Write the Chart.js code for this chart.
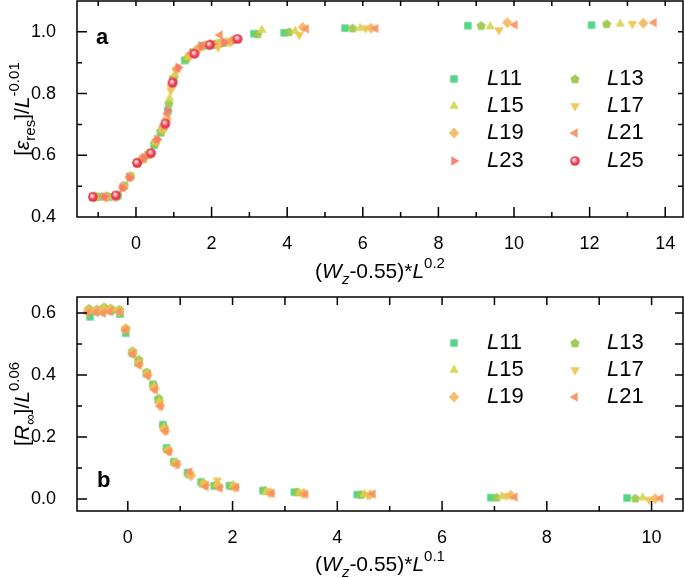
<!DOCTYPE html>
<html>
<head>
<meta charset="utf-8">
<script src="https://cdn.jsdelivr.net/npm/chart.js@4.4.0/dist/chart.umd.min.js"></script>
<style>
    html, body { margin: 0; padding: 0; background: #fff; }
    #wrap  { position: relative; width: 685px; height: 578px; }
    .panel { position: absolute; left: 0; width: 685px; height: 289px; }
</style>
</head>
<body>
<div id="wrap">
    <div class="panel" style="top:0"><canvas id="chart-a"></canvas></div>
    <div class="panel" style="top:289px"><canvas id="chart-b"></canvas></div>
</div>
<script>
// ── Data: panel a  (x = (Wz-0.55)*L^0.2, y = [eps_res]/L^-0.01) ──────
const aL11X = [-1.00, -0.73, -0.48, -0.31, -0.15, 0.03, 0.18, 0.32, 0.48, 0.65, 0.73, 0.84, 0.97, 1.29, 1.50, 1.74, 2.02, 2.26, 3.12, 3.92, 5.53, 8.78, 12.05];
const aL11Y = [0.466, 0.465, 0.470, 0.502, 0.532, 0.575, 0.589, 0.602, 0.633, 0.673, 0.692, 0.743, 0.842, 0.907, 0.933, 0.955, 0.958, 0.964, 0.994, 0.997, 1.012, 1.020, 1.022];
const aL13X = [-1.04, -0.75, -0.50, -0.32, -0.15, 0.03, 0.18, 0.33, 0.50, 0.67, 0.75, 0.87, 1.00, 1.34, 1.55, 1.80, 2.09, 2.34, 3.22, 4.05, 5.73, 9.13, 12.45];
const aL13Y = [0.466, 0.468, 0.468, 0.500, 0.532, 0.576, 0.589, 0.603, 0.638, 0.678, 0.697, 0.768, 0.852, 0.914, 0.937, 0.956, 0.961, 0.966, 0.993, 1.000, 1.012, 1.020, 1.026];
const aL15X = [-1.07, -0.77, -0.52, -0.33, -0.15, 0.03, 0.19, 0.34, 0.52, 0.69, 0.77, 0.89, 1.03, 1.38, 1.60, 1.86, 2.15, 2.41, 3.33, 4.21, 5.93, 9.37, 12.81];
const aL15Y = [0.464, 0.466, 0.467, 0.499, 0.532, 0.575, 0.590, 0.604, 0.643, 0.683, 0.703, 0.785, 0.863, 0.919, 0.941, 0.957, 0.962, 0.968, 1.006, 1.003, 1.012, 1.017, 1.026];
const aL17X = [-1.09, -0.79, -0.53, -0.33, -0.16, 0.04, 0.19, 0.35, 0.53, 0.70, 0.79, 0.92, 1.06, 1.41, 1.64, 1.90, 2.17, 2.47, 4.32, 6.08, 9.60, 13.13];
const aL17Y = [0.466, 0.464, 0.467, 0.499, 0.530, 0.576, 0.590, 0.605, 0.645, 0.685, 0.707, 0.810, 0.873, 0.923, 0.945, 0.958, 0.950, 0.966, 0.990, 1.012, 1.006, 1.026];
const aL19X = [-1.12, -0.81, -0.54, -0.34, -0.16, 0.04, 0.20, 0.36, 0.54, 0.72, 0.81, 0.94, 1.08, 1.44, 1.68, 1.95, 2.25, 2.52, 4.41, 6.22, 9.82, 13.42];
const aL19Y = [0.467, 0.466, 0.466, 0.497, 0.530, 0.576, 0.591, 0.606, 0.648, 0.690, 0.718, 0.827, 0.880, 0.927, 0.949, 0.959, 0.964, 0.970, 1.015, 1.012, 1.030, 1.028];
const aL21X = [-1.14, -0.83, -0.55, -0.35, -0.17, 0.04, 0.20, 0.37, 0.55, 0.74, 0.83, 0.96, 1.10, 1.47, 1.71, 1.99, 2.22, 2.57, 4.50, 6.34, 10.02, 13.70];
const aL21Y = [0.466, 0.465, 0.467, 0.496, 0.528, 0.576, 0.591, 0.607, 0.650, 0.695, 0.735, 0.838, 0.882, 0.930, 0.952, 0.960, 0.990, 0.975, 1.010, 1.011, 1.023, 1.030];
const aL23X = [-1.16, -0.84, -0.56, -0.36, -0.17, 0.04, 0.21, 0.37, 0.56, 0.75, 0.84, 0.97, 1.12, 1.50, 1.74, 2.02, 2.34, 2.62];
const aL23Y = [0.466, 0.466, 0.467, 0.494, 0.528, 0.576, 0.592, 0.607, 0.652, 0.697, 0.745, 0.842, 0.885, 0.932, 0.954, 0.961, 0.966, 0.973];
const aL25X = [-1.14, -0.53, 0.03, 0.40, 0.78, 0.97, 1.55, 1.95, 2.69];
const aL25Y = [0.465, 0.470, 0.575, 0.607, 0.703, 0.835, 0.929, 0.958, 0.977];

// ── Data: panel b  (x = (Wz-0.55)*L^0.1, y = [R_inf]/L^0.06) ─────────
const bL11X = [-0.72, -0.57, -0.44, -0.32, -0.15, -0.04, 0.09, 0.20, 0.36, 0.48, 0.58, 0.67, 0.74, 0.88, 1.14, 1.40, 1.65, 1.94, 2.58, 3.18, 4.38, 6.93, 9.53];
const bL11Y = [0.588, 0.605, 0.612, 0.608, 0.597, 0.535, 0.470, 0.440, 0.405, 0.370, 0.320, 0.240, 0.165, 0.120, 0.085, 0.055, 0.042, 0.043, 0.027, 0.022, 0.014, 0.004, 0.003];
const bL13X = [-0.74, -0.58, -0.45, -0.32, -0.16, -0.04, 0.09, 0.21, 0.36, 0.49, 0.59, 0.68, 0.75, 0.89, 1.16, 1.42, 1.68, 1.98, 2.62, 3.23, 4.46, 7.04, 9.69];
const bL13Y = [0.615, 0.612, 0.620, 0.615, 0.612, 0.550, 0.478, 0.450, 0.410, 0.368, 0.325, 0.235, 0.160, 0.118, 0.080, 0.050, 0.045, 0.042, 0.027, 0.022, 0.014, 0.005, 0.002];
const bL15X = [-0.75, -0.59, -0.46, -0.33, -0.16, -0.04, 0.09, 0.21, 0.37, 0.50, 0.60, 0.69, 0.76, 0.90, 1.18, 1.44, 1.70, 2.01, 2.64, 3.28, 4.52, 7.14, 9.83];
const bL15Y = [0.610, 0.605, 0.615, 0.612, 0.608, 0.545, 0.475, 0.440, 0.404, 0.362, 0.315, 0.230, 0.157, 0.117, 0.082, 0.050, 0.048, 0.045, 0.022, 0.020, 0.016, 0.008, 0.004];
const bL17X = [-0.76, -0.60, -0.46, -0.33, -0.16, -0.04, 0.09, 0.21, 0.37, 0.50, 0.61, 0.70, 0.77, 0.92, 1.19, 1.46, 1.71, 2.03, 2.69, 3.32, 4.58, 7.23, 9.95];
const bL17Y = [0.605, 0.610, 0.612, 0.610, 0.606, 0.548, 0.472, 0.438, 0.403, 0.360, 0.310, 0.225, 0.155, 0.115, 0.080, 0.050, 0.060, 0.040, 0.022, 0.018, 0.012, 0.010, -0.002];
const bL19X = [-0.76, -0.60, -0.47, -0.34, -0.16, -0.04, 0.09, 0.21, 0.38, 0.51, 0.62, 0.71, 0.78, 0.93, 1.21, 1.48, 1.74, 2.05, 2.72, 3.36, 4.63, 7.31, 10.07];
const bL19Y = [0.608, 0.610, 0.605, 0.612, 0.605, 0.550, 0.470, 0.437, 0.400, 0.356, 0.300, 0.220, 0.155, 0.112, 0.075, 0.045, 0.040, 0.038, 0.020, 0.018, 0.014, 0.012, 0.001];
const bL21X = [-0.77, -0.61, -0.47, -0.34, -0.16, -0.04, 0.09, 0.22, 0.38, 0.52, 0.62, 0.72, 0.79, 0.94, 1.18, 1.49, 1.76, 2.07, 2.75, 3.39, 4.68, 7.39, 10.17];
const bL21Y = [0.600, 0.602, 0.600, 0.605, 0.603, 0.545, 0.468, 0.432, 0.398, 0.352, 0.300, 0.220, 0.152, 0.112, 0.087, 0.040, 0.035, 0.037, 0.018, 0.015, 0.016, 0.006, 0.002];

const seriesLabels = ['11', '13', '15', '17', '19', '21', '23', '25'];
const seriesColors = ['#45d27c', '#9cc64c', '#d6d654', '#eec44c', '#f2b85e', '#f7915f', '#f87a6c', '#ee3a58'];
const seriesShapes = ['square', 'pentagon', 'up', 'down', 'diamond', 'left', 'right', 'sphere'];

const FONT = '"Liberation Sans", Arial, sans-serif';

// ── Marker images ─────────────────────────────────────────────────
function makeMarker(shape, color) {
    const s = 16;
    const c = document.createElement('canvas');
    c.width = s; c.height = s;
    const g = c.getContext('2d');
    g.translate(s / 2, s / 2);
    g.globalAlpha = 0.92;
    g.fillStyle = color;
    g.beginPath();
    const r = 5.4;
    const poly = pts => { g.moveTo(pts[0][0], pts[0][1]); pts.slice(1).forEach(p => g.lineTo(p[0], p[1])); g.closePath(); };
    switch (shape) {
        case 'square':  g.rect(-3.7, -3.7, 7.4, 7.4); break;
        case 'pentagon': {
            const pts = [];
            for (let i = 0; i < 5; i++) {
                const a = -Math.PI / 2 + i * 2 * Math.PI / 5;
                pts.push([4.9 * Math.cos(a), 4.9 * Math.sin(a) + 0.4]);
            }
            poly(pts); break;
        }
        case 'up':      poly([[0, -r], [r * 0.87, r * 0.5], [-r * 0.87, r * 0.5]]); break;
        case 'down':    poly([[0, r], [r * 0.87, -r * 0.5], [-r * 0.87, -r * 0.5]]); break;
        case 'left':    poly([[-r, 0], [r * 0.5, -r * 0.87], [r * 0.5, r * 0.87]]); break;
        case 'right':   poly([[r, 0], [-r * 0.5, -r * 0.87], [-r * 0.5, r * 0.87]]); break;
        case 'diamond': poly([[0, -5.5], [5.1, 0], [0, 5.5], [-5.1, 0]]); break;
        case 'sphere': {
            const grad = g.createRadialGradient(-1.3, -1.5, 0.2, 0, 0, 5);
            grad.addColorStop(0, '#ffffff');
            grad.addColorStop(0.3, '#f9a0ac');
            grad.addColorStop(0.6, color);
            grad.addColorStop(1, '#d8203e');
            g.fillStyle = grad;
            g.arc(0, 0, 4.8, 0, Math.PI * 2);
            break;
        }
    }
    g.fill();
    return c;
}

const markers = seriesShapes.map((s, i) => makeMarker(s, seriesColors[i]));

function makeDataset(idx, xs, ys) {
    return {
        label: 'L' + seriesLabels[idx],
        data: xs.map((x, i) => ({ x, y: ys[i] })),
        pointStyle: markers[idx],
        pointRadius: 5,
        showLine: false,
        order: -idx
    };
}

// ── Rich text (italic / sub / sup) ────────────────────────────────
function richText(ctx, parts, cx, cy, size, rotate) {
    const fontFor = p => {
        const sz = (p.sub || p.sup) ? Math.round(size * 0.7) : size;
        return (p.i ? 'italic ' : '') + sz + 'px ' + FONT;
    };
    ctx.save();
    ctx.translate(cx, cy);
    if (rotate) ctx.rotate(-Math.PI / 2);
    let w = 0;
    parts.forEach(p => { ctx.font = fontFor(p); w += ctx.measureText(p.t).width; });
    let x = -w / 2;
    ctx.fillStyle = '#000';
    ctx.textBaseline = 'alphabetic';
    ctx.textAlign = 'left';
    const base = size * 0.36;
    parts.forEach(p => {
        ctx.font = fontFor(p);
        let dy = base;
        if (p.sub) dy += size * 0.3;
        if (p.sup) dy -= size * 0.45;
        ctx.fillText(p.t, x, dy);
        x += ctx.measureText(p.t).width;
    });
    ctx.restore();
}

// ── Frame, inward ticks, titles, panel letter, legend ────────────
const decor = {
    id: 'decor',
    afterDraw(chart, args, o) {
        const ctx = chart.ctx;
        const { left, right, top, bottom } = chart.chartArea;
        const xs = chart.scales.x, ys = chart.scales.y;
        ctx.save();
        ctx.strokeStyle = '#000';
        ctx.lineWidth = 1.5;
        ctx.strokeRect(left, top, right - left, bottom - top);

        ctx.beginPath();
        xs.ticks.forEach(t => {
            const px = xs.getPixelForValue(t.value);
            if (px < left + 1 || px > right - 1) return;
            const major = Math.round(t.value) % 2 === 0;
            ctx.moveTo(px, bottom); ctx.lineTo(px, bottom - (major ? 10 : 5));
            ctx.moveTo(px, top);    ctx.lineTo(px, top + o.mirror);
        });
        ys.ticks.forEach(t => {
            const py = ys.getPixelForValue(t.value);
            if (py < top + 1 || py > bottom - 1) return;
            const major = Math.round(t.value * 10) % 2 === 0;
            ctx.moveTo(left, py);  ctx.lineTo(left + (major ? 10 : 5), py);
            ctx.moveTo(right, py); ctx.lineTo(right - o.mirror, py);
        });
        ctx.stroke();

        richText(ctx, o.xTitle, (left + right) / 2, o.xTitleY, 21, false);
        richText(ctx, o.yTitle, 21, (top + bottom) / 2, 21, true);

        ctx.font = 'bold 22px ' + FONT;
        ctx.fillStyle = '#000';
        ctx.textBaseline = 'alphabetic';
        ctx.fillText(o.letter, o.letterPos[0], o.letterPos[1]);

        // legend: two columns
        chart.data.datasets.forEach((ds, i) => {
            const col = i % 2, row = Math.floor(i / 2);
            const y = o.legendRows[row];
            const mx = col ? 575 : 454, tx = col ? 607 : 487;
            const img = ds.pointStyle;
            ctx.drawImage(img, mx - img.width / 2, y - img.height / 2);
            ctx.textBaseline = 'middle';
            ctx.font = 'italic 22px ' + FONT;
            ctx.fillText('L', tx, y);
            const lw = ctx.measureText('L').width;
            ctx.font = '22px ' + FONT;
            ctx.fillText(ds.label.slice(1), tx + lw, y);
        });
        ctx.restore();
    }
};

function axisOptions(min, max, step, isX, size, decimals) {
    return {
        type: 'linear',
        min, max,
        grid: { display: false },
        border: { display: false },
        ticks: {
            stepSize: step,
            includeBounds: false,
            autoSkip: false,
            maxRotation: 0,
            padding: isX ? 8 : 13,
            color: '#000',
            font: { family: FONT, size: 18 },
            callback: v => {
                const n = Math.round(v / step);
                return n % 2 === 0 ? v.toFixed(decimals) : '';
            }
        },
        afterFit: s => {
            if (isX) s.height = size; else s.width = size;
            s.paddingLeft = s.paddingRight = s.paddingTop = s.paddingBottom = 0;
        }
    };
}

function makeChart(id, datasets, xr, yr, pad, xh, deco) {
    return new Chart(document.getElementById(id), {
        type: 'scatter',
        data: { datasets },
        options: {
            responsive: true,
            maintainAspectRatio: false,
            animation: false,
            devicePixelRatio: 1,
            layout: { padding: pad, autoPadding: false },
            plugins: { legend: { display: false }, tooltip: { enabled: false }, decor: deco },
            scales: {
                x: axisOptions(xr[0], xr[1], 1, true, xh, 0),
                y: axisOptions(yr[0], yr[1], 0.1, false, 77, 1)
            }
        },
        plugins: [decor]
    });
}

const titleX = sup => [{ t: '(' }, { t: 'W', i: 1 }, { t: 'z', i: 1, sub: 1 }, { t: '-0.55)*' }, { t: 'L', i: 1 }, { t: sup, sup: 1 }];

makeChart('chart-a', [
    makeDataset(0, aL11X, aL11Y), makeDataset(1, aL13X, aL13Y),
    makeDataset(2, aL15X, aL15Y), makeDataset(3, aL17X, aL17Y),
    makeDataset(4, aL19X, aL19Y), makeDataset(5, aL21X, aL21Y),
    makeDataset(6, aL23X, aL23Y), makeDataset(7, aL25X, aL25Y)
], [-1.56, 14.47], [0.4, 1.1], { top: 1, right: 2, left: 0, bottom: 0 }, 72, {
    xTitle: titleX('0.2'),
    yTitle: [{ t: '[' }, { t: 'ε', i: 1 }, { t: 'res', sub: 1 }, { t: ']/' }, { t: 'L', i: 1 }, { t: '-0.01', sup: 1 }],
    xTitleY: 270,
    letter: 'a', letterPos: [96, 44],
    legendRows: [79, 106, 133, 161],
    mirror: 5
});

makeChart('chart-b', [
    makeDataset(0, bL11X, bL11Y), makeDataset(1, bL13X, bL13Y),
    makeDataset(2, bL15X, bL15Y), makeDataset(3, bL17X, bL17Y),
    makeDataset(4, bL19X, bL19Y), makeDataset(5, bL21X, bL21Y)
], [-0.97, 10.6], [-0.039, 0.652], { top: 8, right: 2, left: 0, bottom: 0 }, 67, {
    xTitle: titleX('0.1'),
    yTitle: [{ t: '[' }, { t: 'R', i: 1 }, { t: '∞', sub: 1 }, { t: ']/' }, { t: 'L', i: 1 }, { t: '0.06', sup: 1 }],
    xTitleY: 274,
    letter: 'b', letterPos: [97, 198],
    legendRows: [54, 81, 108],
    mirror: 8
});
</script>
</body>
</html>
